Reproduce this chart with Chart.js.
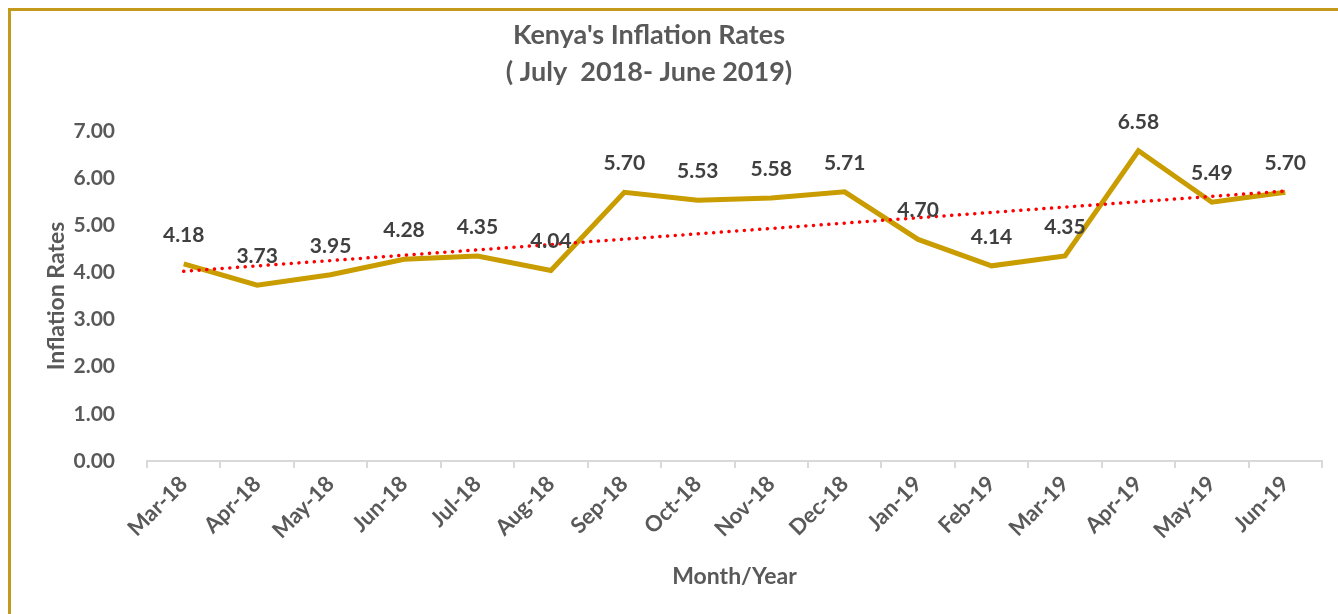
<!DOCTYPE html>
<html>
<head>
<meta charset="utf-8">
<script src="https://cdn.jsdelivr.net/npm/chart.js@4.4.1/dist/chart.umd.min.js"></script>
<style>
  html, body { margin: 0; padding: 0; background: #fff; overflow: hidden; }
  #frame {
    position: absolute; left: 8px; top: 8px;
    width: 1330px; height: 606px;
    border-left: 3px solid #C49A1C;
    border-top: 3px solid #C49A1C;
  }
  #wrap { position: absolute; left: 0; top: 0; width: 1338px; height: 614px; }
</style>
</head>
<body>
<div id="frame"></div>
<div id="wrap"><canvas id="myChart" width="1338" height="614"></canvas></div>
<script>
// chart data
var months = ['Mar-18', 'Apr-18', 'May-18', 'Jun-18', 'Jul-18', 'Aug-18', 'Sep-18', 'Oct-18',
              'Nov-18', 'Dec-18', 'Jan-19', 'Feb-19', 'Mar-19', 'Apr-19', 'May-19', 'Jun-19'];
var inflation = [4.18, 3.73, 3.95, 4.28, 4.35, 4.04, 5.70, 5.53,
                 5.58, 5.71, 4.70, 4.14, 4.35, 6.58, 5.49, 5.70];
var yTicks = [0, 1, 2, 3, 4, 5, 6, 7];
var titleLines = ["Kenya's Inflation Rates", '( July  2018- June 2019)'];

// linear trendline (least squares, like Excel)
function linearTrend(vals) {
    var n = vals.length, sx = 0, sy = 0, sxy = 0, sxx = 0;
    for (var i = 0; i < n; i++) {
        sx += i; sy += vals[i]; sxy += i * vals[i]; sxx += i * i;
    }
    var b = (n * sxy - sx * sy) / (n * sxx - sx * sx);
    var a = (sy - b * sx) / n;
    return vals.map(function (v, i) { return a + b * i; });
}

var FONT = 'Lato, "DejaVu Sans", sans-serif';
var GREY = '#595959';

var pointLabels = {
    id: 'pointLabels',
    afterDatasetsDraw: function (chart) {
        var ctx = chart.ctx;
        var meta = chart.getDatasetMeta(0);
        ctx.save();
        ctx.font = 'bold 21px ' + FONT;
        ctx.fillStyle = '#404040';
        ctx.textAlign = 'center';
        ctx.textBaseline = 'middle';
        meta.data.forEach(function (pt, i) {
            ctx.fillText(inflation[i].toFixed(2), pt.x, pt.y - 29);
        });
        ctx.restore();
    }
};

var chartTitle = {
    id: 'chartTitle',
    afterDraw: function (chart) {
        var ctx = chart.ctx;
        ctx.save();
        ctx.font = 'bold 27px ' + FONT;
        ctx.fillStyle = GREY;
        ctx.textAlign = 'center';
        ctx.textBaseline = 'middle';
        ctx.fillText(titleLines[0], 649, 35);
        ctx.fillText(titleLines[1], 649, 72);
        ctx.restore();
    }
};

var ctx = document.getElementById('myChart').getContext('2d');
var myChart = new Chart(ctx, {
    type: 'line',
    data: {
        labels: months,
        datasets: [{
            label: 'Inflation Rates',
            data: inflation,
            borderColor: '#C99C00',
            borderWidth: 5,
            pointRadius: 0,
            tension: 0,
            order: 2
        }, {
            label: 'Linear trend',
            data: linearTrend(inflation),
            borderColor: '#FF0000',
            borderWidth: 3.5,
            borderDash: [0.1, 7.6],
            borderCapStyle: 'round',
            pointRadius: 0,
            order: 1
        }]
    },
    options: {
        responsive: false,
        animation: false,
        layout: { padding: { top: 131, left: 0, right: 16, bottom: 0 } },
        plugins: {
            legend: { display: false },
            title: { display: false },
            tooltip: { enabled: false }
        },
        scales: {
            x: {
                offset: true,
                grid: {
                    offset: true,
                    drawOnChartArea: false,
                    drawTicks: true,
                    tickLength: 7,
                    color: '#D9D9D9',
                    lineWidth: 2
                },
                border: { display: true, color: '#D9D9D9', width: 2 },
                ticks: {
                    color: GREY,
                    font: { family: FONT, size: 22, weight: 'bold' },
                    minRotation: 45,
                    maxRotation: 45,
                    padding: 3
                },
                title: {
                    display: true,
                    text: 'Month/Year',
                    color: GREY,
                    font: { family: FONT, size: 23, weight: 'bold' },
                    padding: { top: 0, bottom: 24 }
                },
                afterFit: function (scale) { scale.height = 153; }
            },
            y: {
                min: 0,
                max: 7,
                afterBuildTicks: function (scale) {
                    scale.ticks = yTicks.map(function (v) { return { value: v }; });
                },
                grid: { display: false },
                border: { display: false },
                ticks: {
                    color: GREY,
                    font: { family: FONT, size: 21, weight: 'bold' },
                    padding: 24,
                    callback: function (v) { return Number(v).toFixed(2); }
                },
                title: {
                    display: true,
                    text: 'Inflation Rates',
                    color: GREY,
                    font: { family: FONT, size: 23, weight: 'bold' },
                    padding: { top: 43, bottom: 0 }
                },
                afterFit: function (scale) { scale.width = 147; }
            }
        }
    },
    plugins: [pointLabels, chartTitle]
});
</script>
</body>
</html>
